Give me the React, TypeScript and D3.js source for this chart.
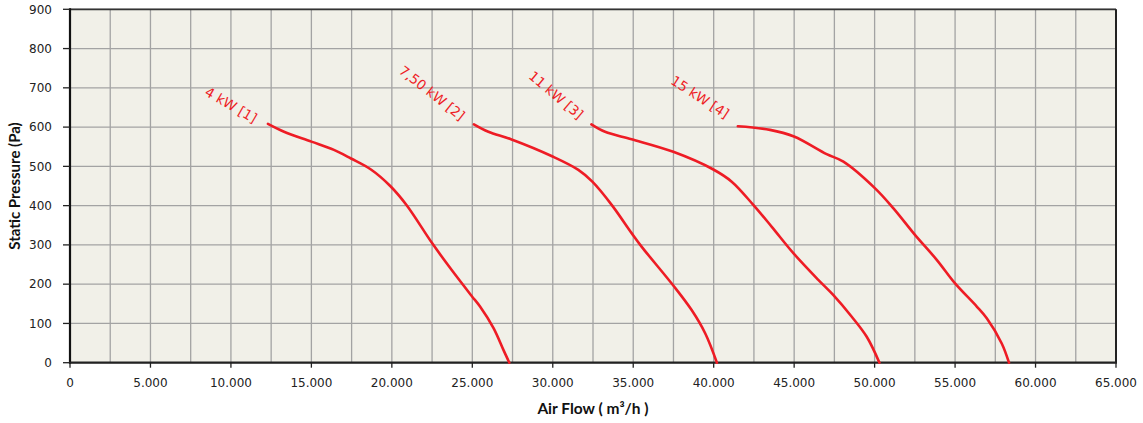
import React from "react";
import * as d3 from "d3";

const xTicks = [0, 5000, 10000, 15000, 20000, 25000, 30000, 35000, 40000, 45000, 50000, 55000, 60000, 65000];
const yTicks = [0, 100, 200, 300, 400, 500, 600, 700, 800, 900];

const curve1: [number, number][] = [
  [12300, 608], [13300, 588], [15000, 563], [16400, 542], [17460, 520], [18700, 492], [19900, 450],
  [20920, 401], [22510, 304], [23720, 236], [24960, 170], [25480, 143], [26320, 88], [26940, 32], [27300, 0],
];
const curve2: [number, number][] = [
  [25100, 607], [26000, 588], [27400, 569], [29990, 525], [31590, 491], [32460, 461], [33660, 402],
  [34900, 330], [35530, 295], [37500, 196], [38630, 134], [39470, 75], [40200, 0],
];
const curve3: [number, number][] = [
  [32400, 607], [33250, 588], [34900, 569], [37490, 537], [39980, 492], [41120, 461], [42460, 402],
  [43610, 346], [44950, 279], [46500, 211], [47440, 172], [48580, 117], [49510, 66], [50300, 0],
];
const curve4: [number, number][] = [
  [41500, 602], [43500, 593], [44990, 576], [47020, 531], [48060, 512], [50030, 444], [51170, 393],
  [52520, 325], [53860, 262], [55000, 202], [56350, 143], [56970, 113], [57900, 49], [58350, 0],
];

const curves = [curve1, curve2, curve3, curve4];
const labels = ["4 kW [1]", "7,50 kW [2]", "11 kW [3]", "15 kW [4]"];
const labelPos: [number, number, number][] = [
  [231, 105, 30], [432, 93, 38], [556, 95, 40], [700, 97, 33],
];

const gridX = d3.range(0, 65001, 2500);

export default function App() {
  const left = 70, right = 1116, top = 9.3, bottom = 362.7;
  const x = d3.scaleLinear().domain([0, 65000]).range([left, right]);
  const y = d3.scaleLinear().domain([0, 900]).range([bottom, top]);
  const line = d3.line<[number, number]>().x(d => x(d[0])).y(d => y(d[1])).curve(d3.curveCatmullRom.alpha(0.5));
  const fmt = (v: number) => (v === 0 ? "0" : d3.format(",")(v).replace(/,/g, "."));
  const tickFont = "'DejaVu Sans', Verdana, sans-serif";
  const titleFont = "Lato, 'Open Sans', sans-serif";

  return (
    <svg width={1143} height={423} style={{ position: "absolute", left: 0, top: 0, background: "#fff" }}>
      <rect x={left} y={top} width={right - left} height={bottom - top} fill="#f1f0e8" />
      {gridX.map(v => (
        <line key={"gx" + v} x1={x(v)} x2={x(v)} y1={top} y2={bottom} stroke="#a3a3a3" strokeWidth={1.3} />
      ))}
      {yTicks.map(v => (
        <line key={"gy" + v} x1={left} x2={right} y1={y(v)} y2={y(v)} stroke="#a3a3a3" strokeWidth={1.3} />
      ))}
      {/* borders */}
      <line x1={left} x2={right} y1={top} y2={top} stroke="#333" strokeWidth={1.8} />
      <line x1={right} x2={right} y1={top} y2={bottom} stroke="#222" strokeWidth={2} />
      <line x1={left} x2={left} y1={top - 1} y2={bottom + 1} stroke="#111" strokeWidth={2.2} />
      <line x1={left - 1} x2={right + 1} y1={bottom} y2={bottom} stroke="#222" strokeWidth={2.2} />
      {/* ticks */}
      {yTicks.map(v => (
        <g key={"yt" + v}>
          <line x1={63} x2={left} y1={y(v)} y2={y(v)} stroke="#222" strokeWidth={1.3} />
          <text x={52} y={y(v)} dy="0.35em" textAnchor="end" fontFamily={tickFont} fontSize={12} fill="#222">
            {v}
          </text>
        </g>
      ))}
      {xTicks.map(v => (
        <g key={"xt" + v}>
          <line x1={x(v)} x2={x(v)} y1={bottom} y2={bottom + 5} stroke="#222" strokeWidth={1.3} />
          <text x={x(v)} y={387} textAnchor="middle" fontFamily={tickFont} fontSize={12} fill="#222">
            {fmt(v)}
          </text>
        </g>
      ))}
      {/* curves */}
      {curves.map((c, i) => (
        <path key={"c" + i} d={line(c) || ""} fill="none" stroke="#ee1c25" strokeWidth={2.6} strokeLinecap="round" />
      ))}
      {labels.map((t, i) => (
        <text
          key={"l" + i}
          transform={`translate(${labelPos[i][0]},${labelPos[i][1]}) rotate(${labelPos[i][2]})`}
          textAnchor="middle"
          dy="0.35em"
          fontFamily={tickFont}
          fontSize={13.5}
          fill="#ee1c25"
        >
          {t}
        </text>
      ))}
      {/* axis titles */}
      <text x={593} y={414} textAnchor="middle" fontFamily={titleFont} fontWeight="bold" fontSize={15.5} fill="#111">
        Air Flow ( m³/h )
      </text>
      <text
        transform={`translate(20,${(top + bottom) / 2}) rotate(-90)`}
        textAnchor="middle"
        fontFamily={titleFont}
        fontWeight="bold"
        fontSize={15}
        fill="#111"
      >
        Static Pressure (Pa)
      </text>
    </svg>
  );
}
